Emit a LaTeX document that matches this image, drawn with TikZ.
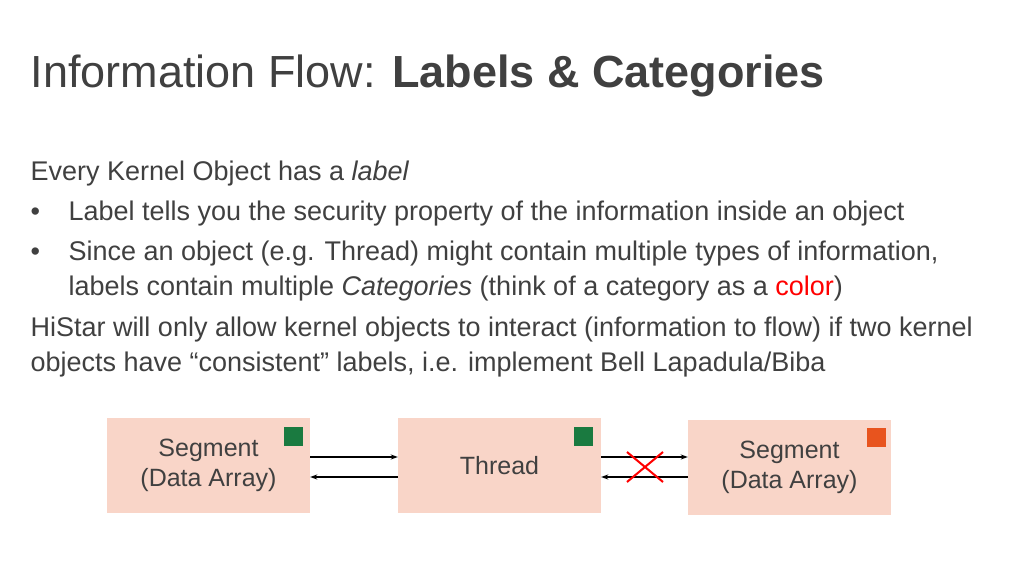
\documentclass[tikz,border=0pt]{standalone}
\usepackage{fontspec}
\setmainfont{Liberation Sans}
\usetikzlibrary{arrows.meta,calc}
\definecolor{boxfill}{HTML}{F9D5C8}
\definecolor{labgreen}{HTML}{1A7A40}
\definecolor{laborange}{HTML}{E8541E}
\definecolor{txtgray}{HTML}{404040}
\tikzset{
  objbox/.style={fill=boxfill, minimum width=203bp, minimum height=95bp, inner sep=0pt, align=center, text=txtgray, font=\fontsize{25bp}{30bp}\selectfont},
  labsq/.style={minimum size=19bp, inner sep=0pt},
  line/.style={anchor=base west, text=txtgray, font=\fontsize{27bp}{30bp}\selectfont},
  flow/.style={-{Stealth[length=7bp,width=5bp]}, line width=1.2bp}
}
\begin{document}
\begin{tikzpicture}[x=1bp,y=-1bp]
  \useasboundingbox (0,0) rectangle (1024,576);
  % title and text
  \node[anchor=base west, text=txtgray, font=\fontsize{45bp}{48bp}\selectfont] (title) at (27,88) {Information Flow: \textbf{Labels \& Categories}};
  \node[line] (l1) at (27,181) {Every Kernel Object has a \textit{label}};
  \node[line] (b1) at (27,221) {•};
  \node[line] (l2) at (65,221) {Label tells you the security property of the information inside an object};
  \node[line] (b2) at (27,261) {•};
  \node[line] (l3) at (65,261) {Since an object (e.g. Thread) might contain multiple types of information,};
  \node[line] (l4) at (65,296) {labels contain multiple \textit{Categories} (think of a category as a \textcolor{red}{color})};
  \node[line] (l5) at (27,336) {HiStar will only allow kernel objects to interact (information to flow) if two kernel};
  \node[line] (l6) at (27,371) {objects have “consistent” labels, i.e. implement Bell Lapadula/Biba};
  % objects
  \node[objbox] (seg1) at (208.5,465.5) {Segment\\(Data Array)};
  \node[objbox] (thr) at (499.5,465.5) {Thread};
  \node[objbox] (seg2) at (789.5,467) {Segment\\(Data Array)};
  \node[labsq, fill=labgreen] (sq1) at (293.5,436.5) {};
  \node[labsq, fill=labgreen] (sq2) at (583.5,436.5) {};
  \node[labsq, fill=laborange] (sq3) at (876.5,437.5) {};
  % flows
  \draw[flow] (seg1.east |- 0,457) -- (thr.west |- 0,457);
  \draw[flow] (thr.west |- 0,477) -- (seg1.east |- 0,477);
  \draw[flow] (thr.east |- 0,457) -- (seg2.west |- 0,457);
  \draw[flow] (seg2.west |- 0,477) -- (thr.east |- 0,477);
  \coordinate (x) at (645,467);
  \draw[red, line width=2bp] ($(x)+(-18,-15)$) -- ($(x)+(18,15)$) ($(x)+(-18,15)$) -- ($(x)+(18,-15)$);
\end{tikzpicture}
\end{document}
